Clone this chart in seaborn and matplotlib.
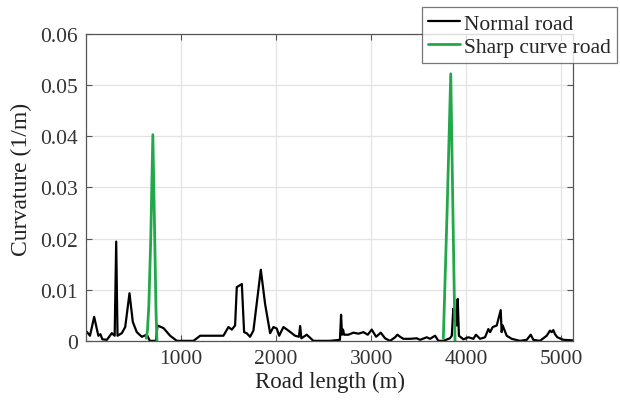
import numpy as np
import pandas as pd
import matplotlib
matplotlib.use("Agg")
import matplotlib.pyplot as plt
import seaborn as sns

# ---------------- data ----------------
normal_x = [5, 40, 84, 128, 150, 170, 218, 270, 300, 316, 330, 375, 411, 456, 491, 533,
            586, 639, 670, 735, 751, 814, 884, 955, 1130, 1200, 1445, 1498, 1533, 1568,
            1586, 1639, 1663, 1690, 1726, 1761, 1839, 1884, 1937, 1972, 2007, 2032, 2077,
            2130, 2200, 2240, 2253, 2266, 2323, 2393, 2568, 2672, 2684, 2694, 2705, 2716,
            2761, 2814, 2867, 2919, 2965, 3007, 3053, 3102, 3147, 3200, 3253, 3277, 3305,
            3340, 3411, 3481, 3516, 3586, 3621, 3674, 3709, 3761, 3830, 3850, 3866, 3876,
            3890, 3900, 3912, 3925, 3972, 4025, 4077, 4105, 4147, 4200, 4235, 4253, 4281,
            4323, 4365, 4375, 4386, 4428, 4481, 4568, 4639, 4681, 4709, 4779, 4849, 4884,
            4902, 4919, 4937, 4961, 5025, 5125]
normal_y = [0.0018, 0.0010, 0.0047, 0.0010, 0.0013, 0.0003, 0.0002, 0.0015, 0.0010, 0.0194,
            0.0010, 0.0015, 0.0027, 0.0093, 0.0037, 0.0017, 0.0008, 0.0012, 0.0000, 0.0000,
            0.0030, 0.0025, 0.0010, 0.0000, 0.0000, 0.0010, 0.0010, 0.0027, 0.0022, 0.0030,
            0.0105, 0.0111, 0.0017, 0.0015, 0.0008, 0.0020, 0.0139, 0.0072, 0.0015, 0.0027,
            0.0024, 0.0010, 0.0027, 0.0020, 0.0010, 0.0008, 0.0029, 0.0005, 0.0012, 0.0000,
            0.0000, 0.0002, 0.0051, 0.0012, 0.0022, 0.0012, 0.0012, 0.0016, 0.0014, 0.0017,
            0.0012, 0.0022, 0.0008, 0.0016, 0.0005, 0.0000, 0.0007, 0.0012, 0.0008, 0.0004,
            0.0004, 0.0005, 0.0002, 0.0007, 0.0004, 0.0010, 0.0000, 0.0000, 0.0005, 0.0010,
            0.0063, 0.0040, 0.0060, 0.0030, 0.0082, 0.0010, 0.0003, 0.0007, 0.0004, 0.0012,
            0.0004, 0.0007, 0.0023, 0.0017, 0.0027, 0.0030, 0.0060, 0.0017, 0.0030, 0.0010,
            0.0004, 0.0000, 0.0002, 0.0012, 0.0002, 0.0000, 0.0010, 0.0020, 0.0017, 0.0021,
            0.0013, 0.0007, 0.0002, 0.0001]

sharp1_x = [632, 645, 660, 680, 702, 722, 735, 745]
sharp1_y = [0.0005, 0.0020, 0.0070, 0.0200, 0.0403, 0.0200, 0.0060, 0.0000]
sharp2_x = [3761, 3800, 3839, 3862, 3884]
sharp2_y = [0.0005, 0.0250, 0.0522, 0.0250, 0.0000]

series_names = ["Normal road", "Sharp curve road"]
x_ticks = [1000, 2000, 3000, 4000, 5000]
y_ticks = [0, 0.01, 0.02, 0.03, 0.04, 0.05, 0.06]
y_tick_labels = ["0", "0.01", "0.02", "0.03", "0.04", "0.05", "0.06"]

# ---------------- frame ----------------
rows = []
for x, y in zip(normal_x, normal_y):
    rows.append((x, y, series_names[0], "n"))
for x, y in zip(sharp1_x, sharp1_y):
    rows.append((x, y, series_names[1], "s1"))
for x, y in zip(sharp2_x, sharp2_y):
    rows.append((x, y, series_names[1], "s2"))
df = pd.DataFrame(rows, columns=["x", "y", "series", "seg"])

sns.set_theme(style="white")
plt.rcParams["font.family"] = ["Liberation Serif", "DejaVu Serif"]

fig = plt.figure(figsize=(6.2, 4.06), dpi=100)
ax = fig.add_axes([0.139, 0.158, 0.785, 0.756])

sns.lineplot(data=df[df.series == series_names[0]], x="x", y="y", color="black",
             linewidth=1.6, estimator=None, sort=False, ax=ax, label=series_names[0])
sns.lineplot(data=df[df.series == series_names[1]], x="x", y="y", units="seg",
             color="#22a84a", linewidth=2.0, estimator=None, sort=False, ax=ax,
             label=series_names[1])

ax.set_xlim(0, 5125)
ax.set_ylim(0, 0.06)
ax.set_xticks(x_ticks)
ax.set_yticks(y_ticks)
ax.set_yticklabels(y_tick_labels)
ax.grid(True, color="#e3e3e3", linewidth=0.9)
ax.set_axisbelow(True)
for s in ax.spines.values():
    s.set_color("#555555")
    s.set_linewidth(0.9)
ax.tick_params(direction="in", length=4, width=0.8, colors="#555555",
               labelcolor="#333333", labelsize=15.5, top=True, right=True,
               bottom=True, left=True, pad=6)
ax.set_xlabel("Road length (m)", fontsize=16.5, color="#222222", labelpad=2)
ax.set_ylabel("Curvature (1/m)", fontsize=17, color="#222222", labelpad=6)
ax.yaxis.set_label_coords(-0.111, 0.528)

ax.get_legend().remove()
h, l = ax.get_legend_handles_labels()
leg = fig.legend(h[:2], l[:2], loc="upper right", bbox_to_anchor=(0.995, 0.980),
                 fontsize=15.5, frameon=True, fancybox=False, edgecolor="#555555",
                 handlelength=1.5, handletextpad=0.15, borderpad=0.3,
                 labelspacing=0.15, borderaxespad=0)
leg.get_frame().set_linewidth(0.9)

fig.savefig("out.png", dpi=100)
